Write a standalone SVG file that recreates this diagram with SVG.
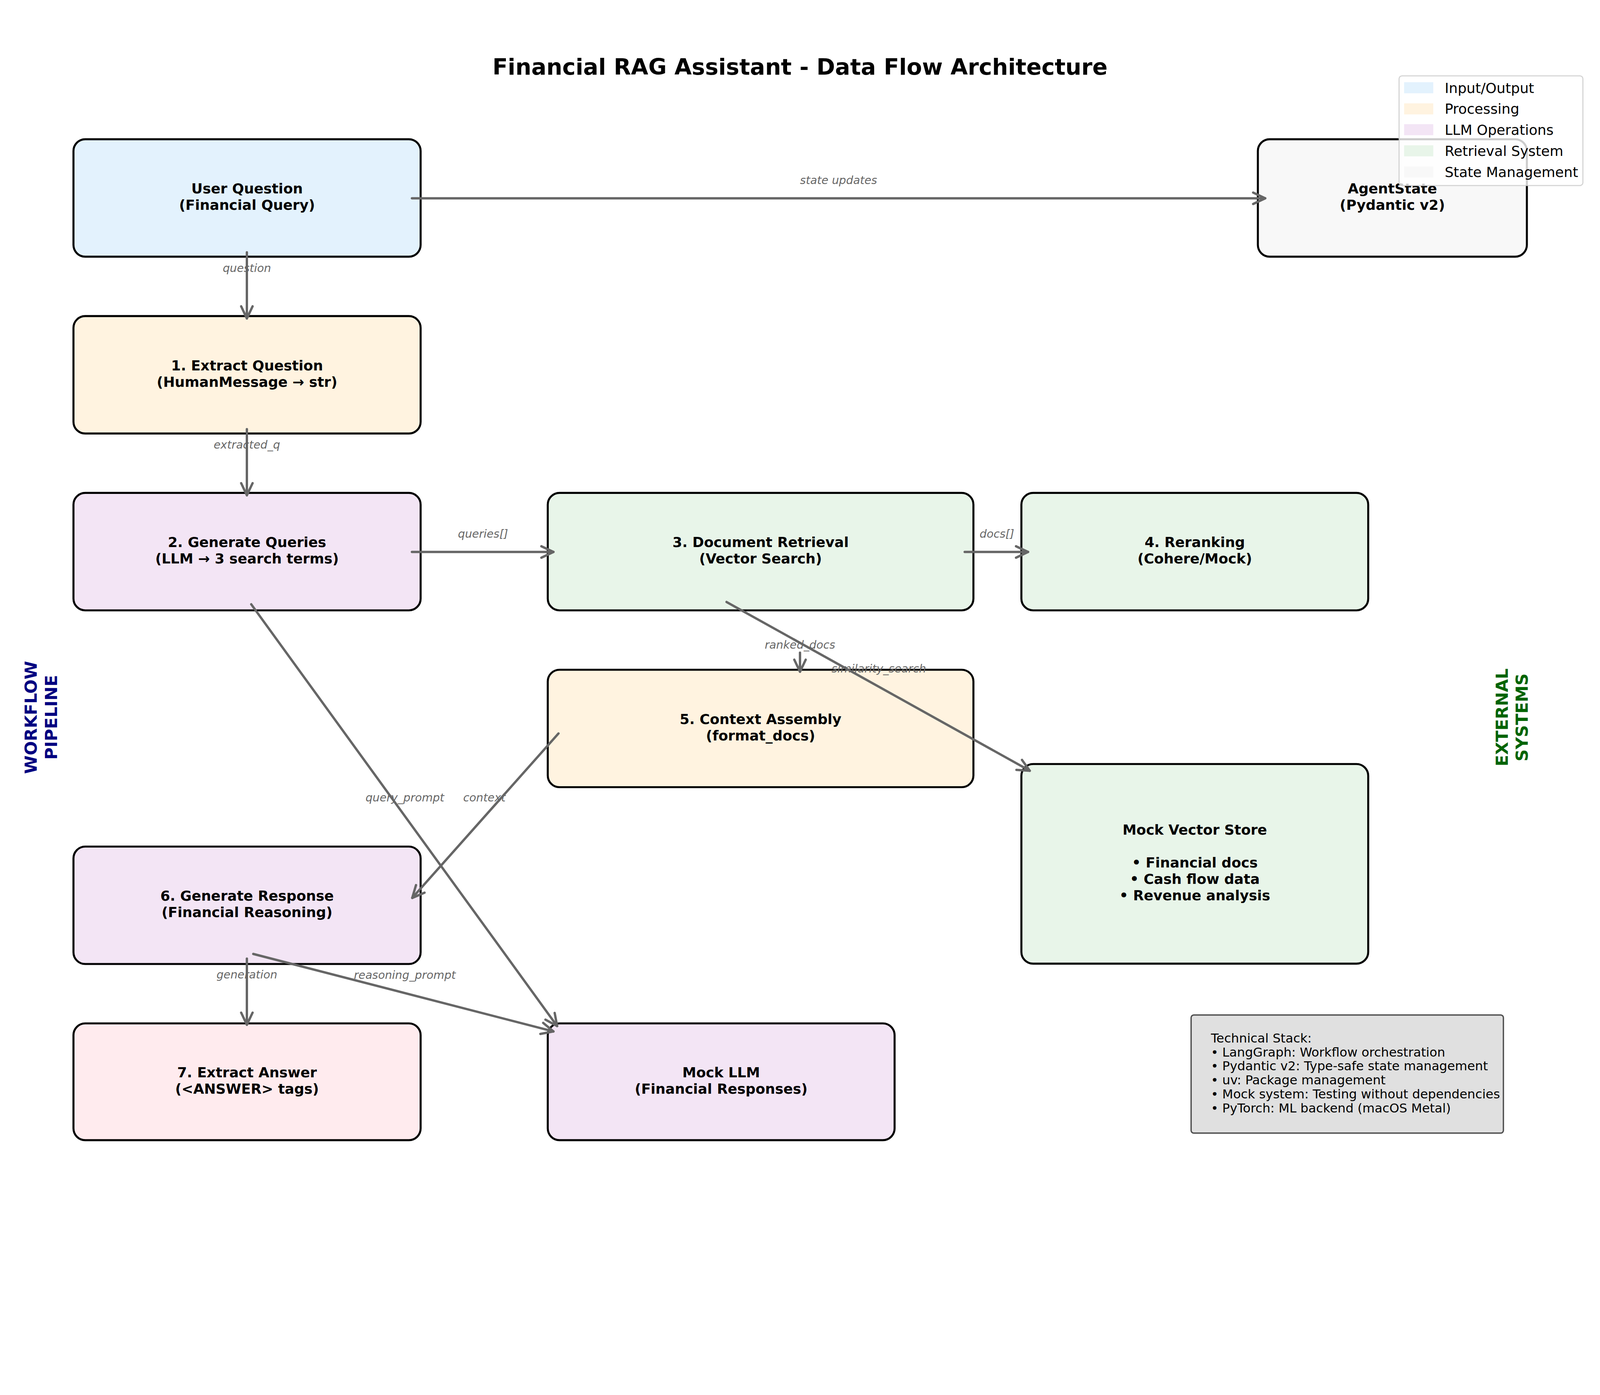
<svg xmlns="http://www.w3.org/2000/svg" width="4770" height="3570" viewBox="0 0 4770 3570" preserveAspectRatio="xMinYMin meet" style="max-width:100vw;max-height:100vh">
<defs>
<style>
.box{stroke:#000;stroke-width:6}
.bt{font-family:"DejaVu Sans","Liberation Sans",sans-serif;font-weight:bold;font-size:41.67px;fill:#000;text-anchor:middle}
.lbl{font-family:"DejaVu Sans","Liberation Sans",sans-serif;font-style:italic;font-size:33.33px;fill:#666666;text-anchor:middle}
.conn{stroke:#666666;stroke-width:7;stroke-linecap:round;fill:none;marker-end:url(#ah)}
.side{font-family:"DejaVu Sans","Liberation Sans",sans-serif;font-weight:bold;font-size:50px;text-anchor:middle}
.leg{font-family:"DejaVu Sans","Liberation Sans",sans-serif;font-size:41.67px;fill:#000}
.tech{font-family:"DejaVu Sans","Liberation Sans",sans-serif;font-size:37.5px;fill:#000}
</style>
<marker id="ah" markerUnits="userSpaceOnUse" orient="auto" refX="0" refY="0" markerWidth="1" markerHeight="1" overflow="visible">
<path d="M-36,-17 L0,0 L-36,17" fill="none" stroke="#666666" stroke-width="7" stroke-linecap="round" stroke-linejoin="round"/>
</marker>
</defs>
<rect width="4770" height="3570" fill="#fff"/>
<text x="2385" y="223" font-family="DejaVu Sans, Liberation Sans, sans-serif" font-weight="bold" font-size="66.67" text-anchor="middle" fill="#000">Financial RAG Assistant - Data Flow Architecture</text>

<g id="node-user-question"><rect class="box" x="219" y="415" width="1035" height="350" rx="35" fill="#E3F2FD"/><text class="bt" x="736.5"><tspan x="736.5" y="576.5">User Question</tspan><tspan x="736.5" y="625.5">(Financial Query)</tspan></text></g>
<g id="node-agent-state"><rect class="box" x="3750" y="415" width="802" height="350" rx="35" fill="#F8F8F8"/><text class="bt"><tspan x="4151" y="576.5">AgentState</tspan><tspan x="4151" y="625.5">(Pydantic v2)</tspan></text></g>
<g id="node-extract-question"><rect class="box" x="219" y="942" width="1035" height="350" rx="35" fill="#FFF3E0"/><text class="bt"><tspan x="736.5" y="1103.5">1. Extract Question</tspan><tspan x="736.5" y="1152.5">(HumanMessage → str)</tspan></text></g>
<g id="node-generate-queries"><rect class="box" x="219" y="1469" width="1035" height="350" rx="35" fill="#F3E5F5"/><text class="bt"><tspan x="736.5" y="1630.5">2. Generate Queries</tspan><tspan x="736.5" y="1679.5">(LLM → 3 search terms)</tspan></text></g>
<g id="node-document-retrieval"><rect class="box" x="1633" y="1469" width="1269" height="350" rx="35" fill="#E8F5E9"/><text class="bt"><tspan x="2267.5" y="1630.5">3. Document Retrieval</tspan><tspan x="2267.5" y="1679.5">(Vector Search)</tspan></text></g>
<g id="node-reranking"><rect class="box" x="3045" y="1469" width="1034" height="350" rx="35" fill="#E8F5E9"/><text class="bt"><tspan x="3562" y="1630.5">4. Reranking</tspan><tspan x="3562" y="1679.5">(Cohere/Mock)</tspan></text></g>
<g id="node-context-assembly"><rect class="box" x="1633" y="1996" width="1269" height="350" rx="35" fill="#FFF3E0"/><text class="bt"><tspan x="2267.5" y="2157.5">5. Context Assembly</tspan><tspan x="2267.5" y="2206.5">(format_docs)</tspan></text></g>
<g id="node-mock-vector-store"><rect class="box" x="3045" y="2277" width="1034" height="595" rx="35" fill="#E8F5E9"/><text class="bt"><tspan x="3562" y="2487">Mock Vector Store</tspan><tspan x="3562" y="2585">• Financial docs</tspan><tspan x="3562" y="2634">• Cash flow data</tspan><tspan x="3562" y="2683">• Revenue analysis</tspan></text></g>
<g id="node-generate-response"><rect class="box" x="219" y="2523" width="1035" height="350" rx="35" fill="#F3E5F5"/><text class="bt"><tspan x="736.5" y="2684.5">6. Generate Response</tspan><tspan x="736.5" y="2733.5">(Financial Reasoning)</tspan></text></g>
<g id="node-extract-answer"><rect class="box" x="219" y="3050" width="1035" height="348" rx="35" fill="#FFEBEE"/><text class="bt"><tspan x="736.5" y="3210.5">7. Extract Answer</tspan><tspan x="736.5" y="3259.5">(&lt;ANSWER&gt; tags)</tspan></text></g>
<g id="node-mock-llm"><rect class="box" x="1633" y="3050" width="1034" height="348" rx="35" fill="#F3E5F5"/><text class="bt"><tspan x="2150" y="3210.5">Mock LLM</tspan><tspan x="2150" y="3259.5">(Financial Responses)</tspan></text></g>

<g id="edge-labels">
<text class="lbl" x="2500" y="549">state updates</text>
<text class="lbl" x="736" y="810">question</text>
<text class="lbl" x="736" y="1337">extracted_q</text>
<text class="lbl" x="1440" y="1603">queries[]</text>
<text class="lbl" x="2972" y="1603">docs[]</text>
<text class="lbl" x="2385" y="1933">ranked_docs</text>
<text class="lbl" x="2620" y="2004">similarity_search</text>
<text class="lbl" x="1207" y="2389">query_prompt</text>
<text class="lbl" x="1444" y="2389">context</text>
<text class="lbl" x="736" y="2916">generation</text>
<text class="lbl" x="1207" y="2917">reasoning_prompt</text>
</g>

<g id="connectors">
<line class="conn" x1="1228" y1="591" x2="3772" y2="591"/>
<line class="conn" x1="736" y1="752" x2="736" y2="949"/>
<line class="conn" x1="736" y1="1279" x2="736" y2="1476"/>
<line class="conn" x1="1228" y1="1645" x2="1650" y2="1645"/>
<line class="conn" x1="2876" y1="1645" x2="3065" y2="1645"/>
<line class="conn" x1="2385" y1="1945" x2="2385" y2="2002"/>
<line class="conn" x1="2166" y1="1794" x2="3070" y2="2297"/>
<line class="conn" x1="749" y1="1801" x2="1661" y2="3058"/>
<line class="conn" x1="1665" y1="2186" x2="1229" y2="2676"/>
<line class="conn" x1="736" y1="2857" x2="736" y2="3054"/>
<line class="conn" x1="755" y1="2843" x2="1650" y2="3074"/>
</g>

<g id="side-workflow"><text class="side" fill="#000080" transform="translate(126,2138) rotate(-90)"><tspan x="0" y="-16">WORKFLOW</tspan><tspan x="0" y="44">PIPELINE</tspan></text></g>
<g id="side-external"><text class="side" fill="#006400" transform="translate(4511,2138) rotate(-90)"><tspan x="0" y="-16">EXTERNAL</tspan><tspan x="0" y="44">SYSTEMS</tspan></text></g>

<g id="tech-stack">
<rect x="3551" y="3025" width="931" height="352" rx="8" fill="#E0E0E0" stroke="#505050" stroke-width="4"/>
<text class="tech"><tspan x="3610" y="3107">Technical Stack:</tspan><tspan x="3610" y="3149">• LangGraph: Workflow orchestration</tspan><tspan x="3610" y="3190">• Pydantic v2: Type-safe state management</tspan><tspan x="3610" y="3232">• uv: Package management</tspan><tspan x="3610" y="3273">• Mock system: Testing without dependencies</tspan><tspan x="3610" y="3315">• PyTorch: ML backend (macOS Metal)</tspan></text>
</g>

<g id="legend">
<rect x="4171" y="226" width="548" height="327" rx="9" fill="#fff" fill-opacity="0.8" stroke="#cccccc" stroke-opacity="0.85" stroke-width="3.3"/>
<rect x="4186" y="245" width="87" height="33" fill="#E3F2FD"/>
<rect x="4186" y="308" width="87" height="33" fill="#FFF3E0"/>
<rect x="4186" y="370" width="87" height="33" fill="#F3E5F5"/>
<rect x="4186" y="433" width="87" height="33" fill="#E8F5E9"/>
<rect x="4186" y="496" width="87" height="33" fill="#F8F8F8"/>
<text class="leg" x="4307" y="277">Input/Output</text>
<text class="leg" x="4307" y="339">Processing</text>
<text class="leg" x="4307" y="402">LLM Operations</text>
<text class="leg" x="4307" y="465">Retrieval System</text>
<text class="leg" x="4307" y="528">State Management</text>
</g>
</svg>
